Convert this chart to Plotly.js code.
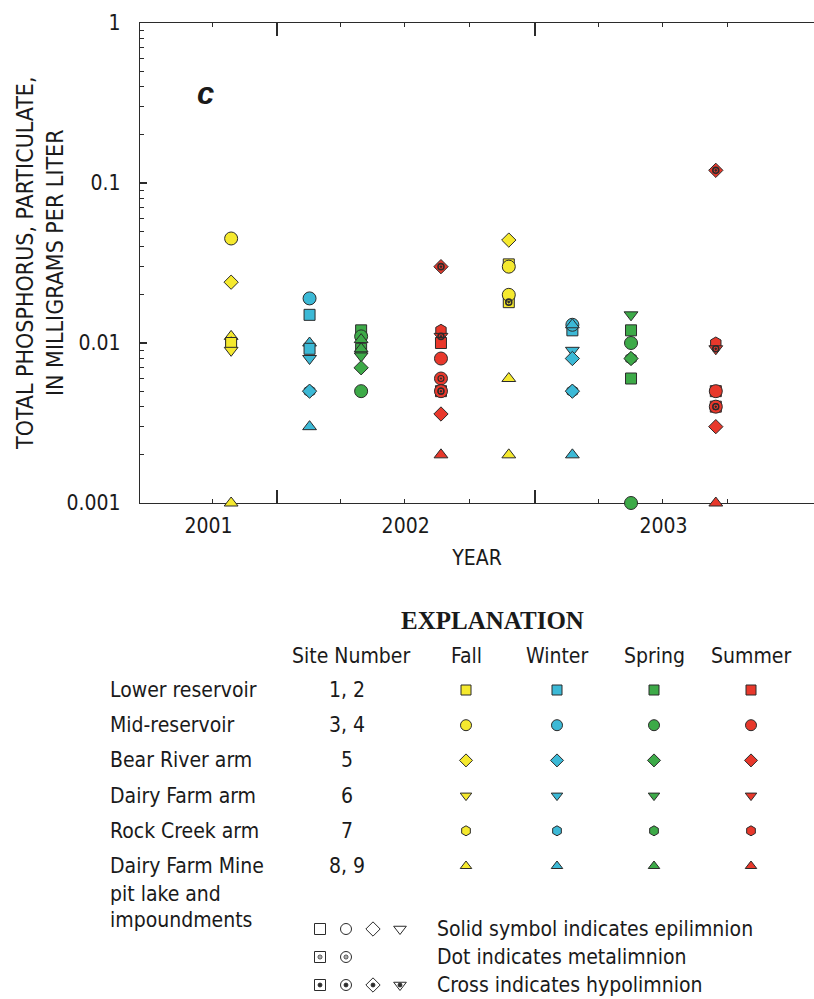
<!DOCTYPE html>
<html>
<head>
<meta charset="utf-8">
<script src="https://cdn.plot.ly/plotly-3.0.1.min.js"></script>
<style>
  html, body { margin: 0; padding: 0; background: #fff; }
  #chart { width: 814px; height: 999px; }
</style>
</head>
<body>
<div id="chart"></div>
<script>
// ---- Sampling trips ----
const tripDates   = ['2001-10-28', '2002-02-16', '2002-04-30', '2002-08-21',
                     '2002-11-25', '2003-02-23', '2003-05-17', '2003-09-14'];
const tripSeasons = ['Fall', 'Winter', 'Spring', 'Summer', 'Fall', 'Winter', 'Spring', 'Summer'];

// Per trip: site group, depth zone (E epilimnion, M metalimnion, H hypolimnion),
// particulate total phosphorus in mg/L
const trip1Sites  = ['mid', 'bear', 'mine', 'rock', 'lower', 'dairy', 'mine'];
const trip1Zones  = ['E', 'E', 'E', 'E', 'E', 'E', 'E'];
const trip1Values = [0.045, 0.024, 0.011, 0.010, 0.010, 0.009, 0.001];

const trip2Sites  = ['mid', 'lower', 'mine', 'lower', 'dairy', 'rock', 'bear', 'mine'];
const trip2Zones  = ['E', 'E', 'E', 'E', 'E', 'E', 'E', 'E'];
const trip2Values = [0.019, 0.015, 0.010, 0.0092, 0.008, 0.005, 0.005, 0.003];

const trip3Sites  = ['lower', 'mid', 'mine', 'lower', 'mine', 'dairy', 'bear', 'mid'];
const trip3Zones  = ['E', 'E', 'E', 'E', 'E', 'E', 'E', 'E'];
const trip3Values = [0.012, 0.011, 0.0105, 0.0092, 0.0092, 0.0083, 0.007, 0.005];

const trip4Sites  = ['bear', 'rock', 'dairy', 'lower', 'mid', 'mid', 'lower', 'mid', 'bear', 'mine'];
const trip4Zones  = ['H', 'E', 'H', 'E', 'E', 'M', 'M', 'M', 'E', 'E'];
const trip4Values = [0.030, 0.012, 0.011, 0.010, 0.008, 0.006, 0.005, 0.005, 0.0036, 0.002];

const trip5Sites  = ['bear', 'lower', 'mid', 'lower', 'mid', 'mine', 'mine'];
const trip5Zones  = ['E', 'E', 'E', 'H', 'E', 'E', 'E'];
const trip5Values = [0.044, 0.031, 0.030, 0.018, 0.020, 0.006, 0.002];

const trip6Sites  = ['lower', 'mid', 'mine', 'dairy', 'bear', 'rock', 'bear', 'mine'];
const trip6Zones  = ['E', 'E', 'E', 'E', 'E', 'E', 'E', 'E'];
const trip6Values = [0.012, 0.013, 0.013, 0.009, 0.008, 0.005, 0.005, 0.002];

const trip7Sites  = ['dairy', 'lower', 'mid', 'rock', 'bear', 'lower', 'mid'];
const trip7Zones  = ['E', 'E', 'E', 'E', 'E', 'E', 'E'];
const trip7Values = [0.015, 0.012, 0.010, 0.008, 0.008, 0.006, 0.001];

const trip8Sites  = ['bear', 'rock', 'dairy', 'lower', 'mid', 'lower', 'mid', 'bear', 'mine'];
const trip8Zones  = ['H', 'E', 'H', 'E', 'E', 'M', 'M', 'E', 'E'];
const trip8Values = [0.12, 0.010, 0.0092, 0.005, 0.005, 0.004, 0.004, 0.003, 0.001];

// ---- Axis labels ----
const yTickValues = [0.001, 0.01, 0.1, 1];
const yTickText   = ['0.001', '0.01', '0.1', '1'];
const yearLabels  = ['2001', '2002', '2003'];

// ---- Explanation table ----
const siteKeys    = ['lower', 'mid', 'bear', 'dairy', 'rock', 'mine'];
const siteNames   = ['Lower reservoir', 'Mid-reservoir', 'Bear River arm', 'Dairy Farm arm',
                     'Rock Creek arm', 'Dairy Farm Mine'];
const siteNumbers = ['1, 2', '3, 4', '5', '6', '7', '8, 9'];
const seasons     = ['Fall', 'Winter', 'Spring', 'Summer'];
const zoneNotes   = ['Solid symbol indicates epilimnion', 'Dot indicates metalimnion',
                     'Cross indicates hypolimnion'];

// ---- Styles ----
const seasonColor = { Fall: '#F5E92E', Winter: '#3CB9D6', Spring: '#3DAA48', Summer: '#E8382B' };
const siteSymbol  = { lower: 'square', mid: 'circle', bear: 'diamond', dairy: 'triangle-down',
                      rock: 'hexagon', mine: 'triangle-up' };
const siteSize    = { lower: 11, mid: 13, bear: 11, dairy: 12, rock: 12, mine: 12 };
const legendSize  = { lower: 10, mid: 11, bear: 10, dairy: 10, rock: 10, mine: 10 };
const edge = '#2b2b2b';
const ink = '#1a1a1a';
const FONT = '"Liberation Sans Narrow", "Arial Narrow", "DejaVu Sans Condensed", sans-serif';

// ---- Page geometry (pixels) ----
const W = 814, H = 999;
const plotLeft = 140, plotTop = 23, plotBottom = 503;
const px2paperX = x => (x - plotLeft) / (W - plotLeft);
const px2paperY = y => (H - y) / (H - plotTop);

const xRange = ['2001-06-21', '2004-01-31'];
const yearStarts = ['2002-01-01', '2003-01-01'];
const quarterTicks = ['2001-10-01', '2002-04-01', '2002-07-01', '2002-10-01',
                      '2003-04-01', '2003-07-01', '2003-10-01'];

// centre each year label on the visible part of that year
const t = s => new Date(s + 'T00:00:00Z').getTime();
const yearLabelPos = yearLabels.map(yr => {
  const a = Math.max(t(yr + '-01-01'), t(xRange[0]));
  const b = Math.min(t((+yr + 1) + '-01-01'), t(xRange[1]));
  return new Date((a + b) / 2).toISOString().slice(0, 10);
});

const yMinor = [];
[0.001, 0.01, 0.1].forEach(d => { for (let k = 2; k <= 9; k++) yMinor.push(+(d * k).toPrecision(3)); });

// ---- Data traces ----
const trips = [
  [trip1Sites, trip1Zones, trip1Values], [trip2Sites, trip2Zones, trip2Values],
  [trip3Sites, trip3Zones, trip3Values], [trip4Sites, trip4Zones, trip4Values],
  [trip5Sites, trip5Zones, trip5Values], [trip6Sites, trip6Zones, trip6Values],
  [trip7Sites, trip7Zones, trip7Values], [trip8Sites, trip8Zones, trip8Values]
];

const base = { type: 'scatter', mode: 'markers', cliponaxis: false, showlegend: false, hoverinfo: 'skip' };
const traces = [];

// empty trace that registers the year-label axis
traces.push(Object.assign({}, base, { xaxis: 'x3', yaxis: 'y', x: [], y: [] }));

trips.forEach(([sites, zones, vals], i) => {
  const date = tripDates[i];
  traces.push(Object.assign({}, base, {
    xaxis: 'x', yaxis: 'y', hoverinfo: 'y',
    x: vals.map(() => date), y: vals,
    marker: {
      symbol: sites.map(s => siteSymbol[s]),
      size: sites.map(s => siteSize[s]),
      color: seasonColor[tripSeasons[i]], opacity: 1,
      line: { color: edge, width: 1 }
    }
  }));
  // depth-zone marks drawn on top of the symbols
  ['M', 'H'].forEach(zone => {
    const idx = zones.map((z, k) => z === zone ? k : -1).filter(k => k >= 0);
    if (!idx.length) return;
    traces.push(Object.assign({}, base, {
      xaxis: 'x', yaxis: 'y',
      x: idx.map(() => date), y: idx.map(k => vals[k]),
      marker: { symbol: 'circle-open-dot', size: 6, color: edge, opacity: 1,
                line: { color: edge, width: zone === 'M' ? 1.1 : 1.6 } }
    }));
  });
});

// ---- Explanation symbols (drawn in a pixel-scaled helper subplot) ----
const legTop = 575;
const legColX = [466, 557, 654, 751];
const legRow0 = 690, legRowStep = 35.2;
const legRowY = siteKeys.map((_, r) => legRow0 + r * legRowStep);

seasons.forEach((season, c) => {
  traces.push(Object.assign({}, base, {
    xaxis: 'x2', yaxis: 'y2',
    x: siteKeys.map(() => legColX[c]), y: legRowY,
    marker: {
      symbol: siteKeys.map(s => siteSymbol[s]),
      size: siteKeys.map(s => legendSize[s]),
      color: seasonColor[season], opacity: 1,
      line: { color: edge, width: 1 }
    }
  }));
});

// depth-zone key symbols
const noteSymX = [320, 346, 373, 400];
const noteRowY = [929, 957, 985];
const noteSymbols = [
  ['square-open', 'circle-open', 'diamond-open', 'triangle-down-open'],
  ['square-open', 'circle-open'],
  ['square-open', 'circle-open', 'diamond-open', 'triangle-down-open']
];
noteSymbols.forEach((row, r) => {
  traces.push(Object.assign({}, base, {
    xaxis: 'x2', yaxis: 'y2',
    x: row.map((_, k) => noteSymX[k]), y: row.map(() => noteRowY[r]),
    marker: { symbol: row, size: 11, color: edge, opacity: 1, line: { color: edge, width: 1 } }
  }));
  if (r > 0) traces.push(Object.assign({}, base, {
    xaxis: 'x2', yaxis: 'y2',
    x: row.map((_, k) => noteSymX[k]), y: row.map(() => noteRowY[r]),
    marker: r === 1
      ? { symbol: 'circle-open-dot', size: 4, color: edge, opacity: 1, line: { color: edge, width: 0.9 } }
      : { symbol: 'circle', size: 4, color: edge, opacity: 1, line: { color: edge, width: 0.8 } }
  }));
});

// ---- Text ----
const ann = [];
const txt = (text, x, y, opts = {}) => ann.push(Object.assign({
  text, x: px2paperX(x), y: px2paperY(y), xref: 'paper', yref: 'paper',
  xanchor: 'center', yanchor: 'middle', showarrow: false,
  font: { family: FONT, size: 21, color: ink }
}, opts));

txt('c', 205, 93, { font: { family: '"Liberation Sans", Arial, sans-serif', size: 31, color: ink, weight: 'bold', style: 'italic' } });
txt('TOTAL PHOSPHORUS, PARTICULATE,<br>IN MILLIGRAMS PER LITER', 40, 263,
    { textangle: -90, font: { family: FONT, size: 23, color: ink } });
txt('EXPLANATION', 492, 621, { font: { family: '"Liberation Serif", "Times New Roman", serif', size: 25, color: ink, weight: 'bold' } });
txt('Site Number', 351, 656);
seasons.forEach((s, c) => txt(s, legColX[c], 656));
siteNames.forEach((name, r) => {
  txt(name, 108, legRowY[r], { xanchor: 'left' });
  txt(siteNumbers[r], 347, legRowY[r]);
});
txt('pit lake and', 108, 894, { xanchor: 'left' });
txt('impoundments', 108, 920, { xanchor: 'left' });
zoneNotes.forEach((n, r) => txt(n, 435, noteRowY[r], { xanchor: 'left' }));

// ---- Layout ----
const axisFont = { family: FONT, size: 21, color: ink };
const layout = {
  width: W, height: H,
  margin: { l: plotLeft, r: 0, t: plotTop, b: 0 },
  paper_bgcolor: '#fff', plot_bgcolor: 'rgba(0,0,0,0)',
  showlegend: false,
  xaxis: {
    type: 'date', range: xRange, domain: [0, 1], anchor: 'y',
    showgrid: false, zeroline: false, layer: 'below traces',
    showline: true, linecolor: edge, linewidth: 1.2, mirror: 'ticks',
    tickmode: 'array', tickvals: yearStarts, showticklabels: false,
    ticks: 'inside', ticklen: 13, tickwidth: 1.2, tickcolor: edge,
    minor: { tickmode: 'array', tickvals: quarterTicks, ticks: 'inside', ticklen: 4,
             tickwidth: 1, tickcolor: edge, showgrid: false }
  },
  xaxis3: {
    type: 'date', range: xRange, overlaying: 'x', anchor: 'y', side: 'bottom',
    showgrid: false, zeroline: false, showline: false, ticks: '',
    tickmode: 'array', tickvals: yearLabelPos, ticktext: yearLabels,
    tickfont: axisFont, ticklabelstandoff: 8,
    title: { text: 'YEAR', font: axisFont, standoff: 13 }
  },
  yaxis: {
    type: 'log', range: [-3, 0], domain: [px2paperY(plotBottom), 1], anchor: 'x',
    showgrid: false, zeroline: false, layer: 'below traces',
    showline: true, linecolor: edge, linewidth: 1.2, mirror: false,
    tickmode: 'array', tickvals: yTickValues, ticktext: yTickText,
    ticks: 'inside', ticklen: 7, tickwidth: 1.2, tickcolor: edge,
    tickfont: axisFont, ticklabelstandoff: 14,
    minor: { tickmode: 'array', tickvals: yMinor, ticks: 'inside', ticklen: 4,
             tickwidth: 1, tickcolor: edge, showgrid: false }
  },
  xaxis2: { domain: [0, 1], range: [plotLeft, W], anchor: 'y2', visible: false, fixedrange: true },
  yaxis2: { domain: [0, px2paperY(legTop)], range: [H, legTop], anchor: 'x2', visible: false, fixedrange: true },
  annotations: ann
};

Plotly.newPlot('chart', traces, layout, { staticPlot: true, displayModeBar: false });
</script>
</body>
</html>
